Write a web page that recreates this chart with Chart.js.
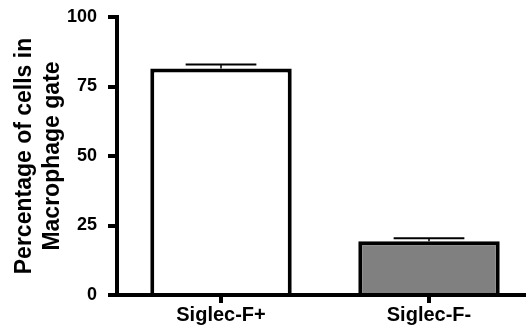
<!DOCTYPE html>
<html>
<head>
<meta charset="utf-8">
<script src="https://cdn.jsdelivr.net/npm/chart.js@4"></script>
<style>
  html, body { margin: 0; padding: 0; background: #fff; width: 526px; height: 333px; overflow: hidden; }
  #wrap { width: 535px; height: 333px; }
</style>
</head>
<body>
<div id="wrap"><canvas id="bars" width="535" height="333"></canvas></div>
<script>
const categories = ['Siglec-F+', 'Siglec-F-'];
const means = [81.5, 19.3];
const sem = [1.4, 1.1];
const barColors = ['#ffffff', '#808080'];
const yTicks = [0, 25, 50, 75, 100];
const yTitle = ['Percentage of cells in', 'Macrophage gate'];

const font = "'Liberation Sans', Arial, sans-serif";

// upward-only SEM whiskers with a cap half the bar width
const errorBars = {
  id: 'errorBars',
  afterDatasetsDraw(chart) {
    const { ctx, scales: { y } } = chart;
    const meta = chart.getDatasetMeta(0);
    ctx.save();
    ctx.strokeStyle = '#000';
    meta.data.forEach((bar, i) => {
      const top = y.getPixelForValue(means[i]);
      const hi = y.getPixelForValue(means[i] + sem[i]);
      const half = bar.width / 4;
      ctx.lineWidth = 1.5;
      ctx.beginPath();
      ctx.moveTo(bar.x, top);
      ctx.lineTo(bar.x, hi);
      ctx.stroke();
      ctx.lineWidth = 2;
      ctx.beginPath();
      ctx.moveTo(bar.x - half, hi);
      ctx.lineTo(bar.x + half, hi);
      ctx.stroke();
    });
    ctx.restore();
  }
};

new Chart(document.getElementById('bars'), {
  type: 'bar',
  data: {
    labels: categories,
    datasets: [{
      data: means,
      backgroundColor: barColors,
      borderColor: '#000',
      borderWidth: 4,
      barPercentage: 0.68,
      categoryPercentage: 1,
    }]
  },
  options: {
    responsive: false,
    animation: false,
    layout: { padding: { top: 17, right: 2, left: 0, bottom: 0 } },
    plugins: { legend: { display: false }, tooltip: { enabled: false } },
    scales: {
      x: {
        afterFit: (s) => { s.height = 38; s.paddingLeft = 0; s.paddingRight = 0; },
        grid: { display: true, drawOnChartArea: false, offset: false, tickLength: 8, lineWidth: 4, color: '#000' },
        border: { display: true, width: 4, color: '#000' },
        ticks: { color: '#000', padding: 0, font: { family: font, size: 20, weight: 'bold' } },
      },
      y: {
        min: 0,
        max: 100,
        afterFit: (s) => { s.width = 117; s.paddingTop = 0; s.paddingBottom = 0; },
        afterBuildTicks: (s) => { s.ticks = yTicks.map(v => ({ value: v })); },
        grid: { display: true, drawOnChartArea: false, tickLength: 9, lineWidth: 4, color: '#000' },
        border: { display: true, width: 4, color: '#000' },
        ticks: { color: '#000', padding: 11, font: { family: font, size: 18, weight: 'bold' } },
        title: {
          display: true,
          text: yTitle,
          color: '#000',
          padding: { top: 11, bottom: 0 },
          font: { family: font, size: 23, weight: 'bold', lineHeight: 1.2 },
        }
      }
    }
  },
  plugins: [errorBars]
});
</script>
</body>
</html>
